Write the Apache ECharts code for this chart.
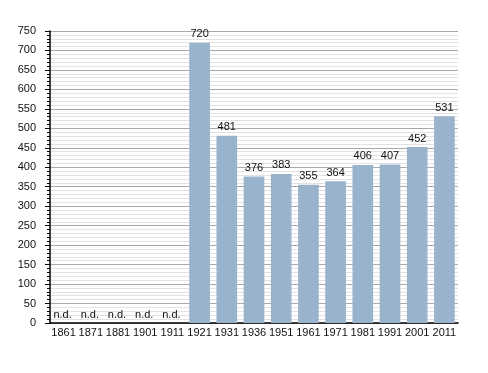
<!DOCTYPE html>
<html><head><meta charset="utf-8">
<script src="https://cdn.jsdelivr.net/npm/echarts@6/dist/echarts.min.js"></script>
<style>html,body{margin:0;padding:0;background:#fff}#c{width:488px;height:373px}</style>
</head><body><div id="c"></div>
<script>
const categories = ['1861','1871','1881','1901','1911','1921','1931','1936','1951','1961','1971','1981','1991','2001','2011'];
const values = [null,null,null,null,null,720,481,376,383,355,364,406,407,452,531];
const yTicks = [0,50,100,150,200,250,300,350,400,450,500,550,600,650,700,750];

const chart = echarts.init(document.getElementById('c'), null, {renderer:'canvas'});
const font = 'Liberation Sans, Arial, sans-serif';
chart.setOption({
  animation:false,
  grid:{left:50,right:30,top:31,bottom:50},
  xAxis:{type:'category',data:categories,
    axisLine:{lineStyle:{color:'#000',width:1.5}},
    axisTick:{show:false},
    axisLabel:{color:'#111',fontSize:11,fontFamily:font,margin:4,interval:0}},
  yAxis:{type:'value',min:yTicks[0],max:yTicks[yTicks.length-1],interval:50,
    axisLine:{show:true,lineStyle:{color:'#000',width:1.5}},
    axisTick:{show:true,length:5,lineStyle:{color:'#000'}},
    minorTick:{show:true,splitNumber:5,length:3,lineStyle:{color:'#000'}},
    splitLine:{show:true,lineStyle:{color:'#a8a8a8',width:1}},
    minorSplitLine:{show:true,lineStyle:{color:'#e2e2e2',width:1}},
    axisLabel:{color:'#111',fontSize:11,fontFamily:font,margin:14}},
  series:[{type:'bar',barCategoryGap:'24%',
    itemStyle:{color:'#9ab3cd'},
    label:{show:true,position:'top',color:'#111',fontSize:11,fontFamily:font,distance:3},
    data:values.map(v=> v===null ? {value:0,label:{formatter:'n.d.',offset:[-1,0]}} : v)}]
});
</script></body></html>
